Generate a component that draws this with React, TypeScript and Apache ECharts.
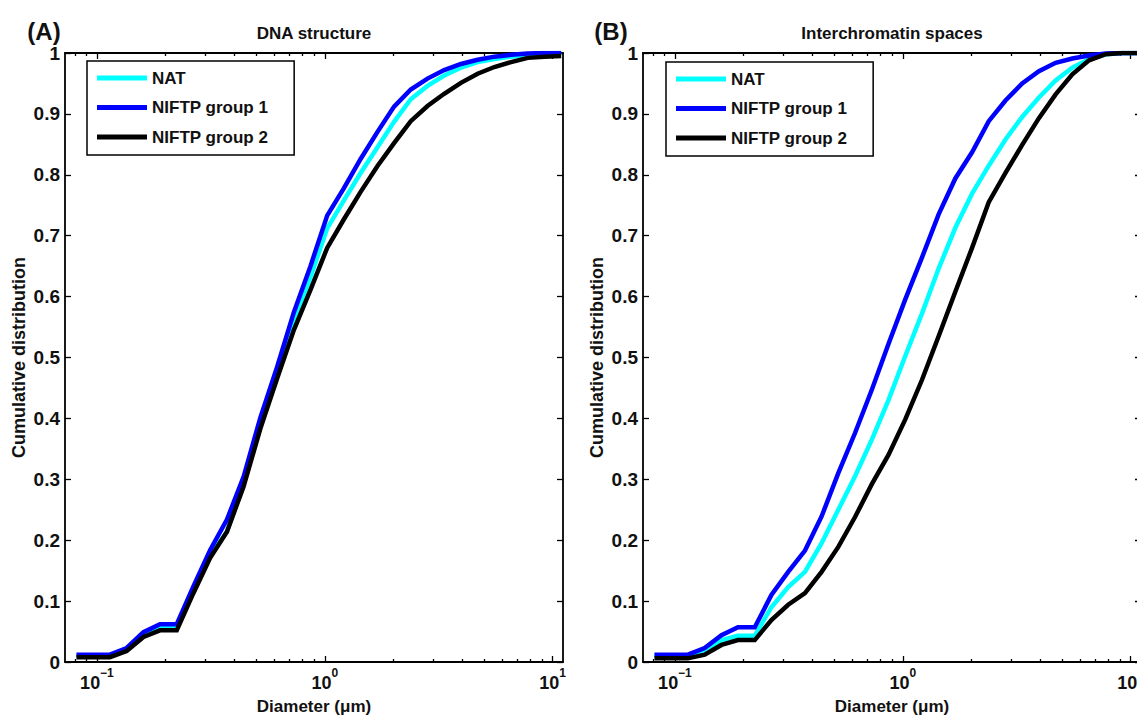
import React, { useEffect, useRef } from "react";
import * as echarts from "echarts";

// Diameter (µm) of each point of the cumulative curves
const DIAMETER_UM = [
  0.0813, 0.0963, 0.114, 0.135, 0.16, 0.189, 0.224, 0.265, 0.314, 0.372, 0.44, 0.521, 0.617, 0.731, 0.865,
  1.024, 1.213, 1.436, 1.7, 2.013, 2.383, 2.822, 3.341, 3.956, 4.684, 5.546, 6.566, 7.775, 9.205, 10.9,
];

// Panel A: DNA structure
const A_NAT = [
  0.01, 0.01, 0.01, 0.02, 0.045, 0.058, 0.058, 0.118, 0.175, 0.214, 0.292, 0.39, 0.477, 0.562, 0.632,
  0.712, 0.758, 0.803, 0.845, 0.887, 0.924, 0.946, 0.963, 0.976, 0.985, 0.99, 0.994, 0.997, 0.999, 1.0,
];
const A_NIFTP1 = [
  0.012, 0.012, 0.012, 0.023, 0.049, 0.062, 0.062, 0.124, 0.184, 0.234, 0.304, 0.401, 0.484, 0.574, 0.65,
  0.733, 0.778, 0.826, 0.87, 0.912, 0.94, 0.958, 0.972, 0.982, 0.989, 0.994, 0.997, 0.999, 1.0, 1.0,
];
const A_NIFTP2 = [
  0.008, 0.008, 0.008, 0.018, 0.041, 0.052, 0.052, 0.113, 0.171, 0.214, 0.288, 0.383, 0.465, 0.545, 0.611,
  0.68, 0.727, 0.772, 0.814, 0.852, 0.888, 0.913, 0.933, 0.951, 0.966, 0.977, 0.985, 0.992, 0.994, 0.995,
];

// Panel B: Interchromatin spaces
const B_NAT = [
  0.01, 0.01, 0.01, 0.02, 0.036, 0.043, 0.043, 0.09, 0.123, 0.148, 0.195, 0.25, 0.305, 0.365, 0.43,
  0.502, 0.572, 0.646, 0.713, 0.769, 0.815, 0.858, 0.895, 0.927, 0.955, 0.976, 0.99, 0.998, 1.0, 1.0,
];
const B_NIFTP1 = [
  0.012, 0.012, 0.012, 0.023, 0.044, 0.057, 0.057, 0.11, 0.148, 0.183, 0.239, 0.31, 0.376, 0.447, 0.522,
  0.595, 0.664, 0.735, 0.794, 0.837, 0.888, 0.922, 0.95, 0.97, 0.984, 0.991, 0.996, 0.999, 1.0, 1.0,
];
const B_NIFTP2 = [
  0.006, 0.006, 0.006, 0.012, 0.028, 0.036, 0.036, 0.069, 0.094, 0.113, 0.148, 0.189, 0.238, 0.292, 0.34,
  0.398, 0.463, 0.535, 0.608, 0.68, 0.755, 0.803, 0.849, 0.893, 0.932, 0.965, 0.988, 0.998, 1.0, 1.0,
];

const SERIES_NAMES = ["NAT", "NIFTP group 1", "NIFTP group 2"];
const SERIES_COLORS = ["#00FFFF", "#0000FF", "#000000"];
const PANEL_DATA = [
  [A_NAT, A_NIFTP1, A_NIFTP2],
  [B_NAT, B_NIFTP1, B_NIFTP2],
];
const PANEL_TITLES = ["DNA structure", "Interchromatin spaces"];
const PANEL_LETTERS = ["(A)", "(B)"];
const X_AXIS_NAME = "Diameter (μm)";
const Y_AXIS_NAME = "Cumulative distribution";

const X_MIN_UM = 0.0724;
const X_MAX_UM = 11.1;
const MAJOR_TICKS_UM = [0.1, 1, 10];
const MINOR_TICKS_UM = [0.08, 0.09, 0.2, 0.3, 0.4, 0.5, 0.6, 0.7, 0.8, 0.9, 2, 3, 4, 5, 6, 7, 8, 9];
const Y_MIN = 0;
const Y_MAX = 1;
const Y_STEP = 0.1;

const FONT = '"Liberation Sans", Arial, Helvetica, sans-serif';
const INK = "#111";

const lg = (v: number) => Math.log10(v);

function buildOption() {
  const grids = [
    { left: 65, top: 53, width: 498, height: 609 },
    { left: 643, top: 53, width: 498, height: 609 },
  ];
  const xMin = lg(X_MIN_UM);
  const xMax = lg(X_MAX_UM);
  const major = MAJOR_TICKS_UM.map(lg);
  const minor = MINOR_TICKS_UM.map(lg);
  const lineStyle = { color: "#000", width: 1.8 };
  const tickStyle = { color: "#000", width: 1.3 };

  const xAxes: any[] = [];
  const yAxes: any[] = [];
  const series: any[] = [];

  grids.forEach((_, gi) => {
    const base = {
      gridIndex: gi,
      type: "value",
      min: xMin,
      max: xMax,
      splitLine: { show: false },
    };
    // bottom major with labels + name
    xAxes.push({
      ...base,
      position: "bottom",
      axisLine: { show: true, onZero: false, lineStyle },
      axisTick: { show: true, inside: true, length: 6, customValues: major, lineStyle: tickStyle },
      axisLabel: {
        show: true,
        customValues: major,
        margin: 5,
        formatter: (v: number) => {
          const e = Math.round(v);
          return `{b|10}{s|${e < 0 ? "\u2212" + -e : e}}`;
        },
        rich: {
          b: {
            fontFamily: FONT,
            fontWeight: "bold",
            fontSize: 18,
            lineHeight: 22,
            color: INK,
            padding: [7, 0, 0, 0],
            verticalAlign: "top",
          },
          s: {
            fontFamily: FONT,
            fontWeight: "bold",
            fontSize: 12,
            lineHeight: 14,
            color: INK,
            verticalAlign: "top",
          },
        },
      },
      name: X_AXIS_NAME,
      nameLocation: "middle",
      nameGap: 36,
      nameTextStyle: { fontFamily: FONT, fontWeight: "bold", fontSize: 17, color: INK },
    });
    // bottom minor
    xAxes.push({
      ...base,
      position: "bottom",
      axisLine: { show: false, onZero: false },
      axisTick: { show: true, inside: true, length: 3, customValues: minor, lineStyle: tickStyle },
      axisLabel: { show: false },
    });
    // top major
    xAxes.push({
      ...base,
      position: "top",
      axisLine: { show: true, onZero: false, lineStyle },
      axisTick: { show: true, inside: true, length: 6, customValues: major, lineStyle: tickStyle },
      axisLabel: { show: false },
    });
    // top minor
    xAxes.push({
      ...base,
      position: "top",
      axisLine: { show: false, onZero: false },
      axisTick: { show: true, inside: true, length: 3, customValues: minor, lineStyle: tickStyle },
      axisLabel: { show: false },
    });

    yAxes.push({
      gridIndex: gi,
      type: "value",
      min: Y_MIN,
      max: Y_MAX,
      interval: Y_STEP,
      position: "left",
      axisLine: { show: true, onZero: false, lineStyle },
      axisTick: { show: true, inside: true, length: 6, lineStyle: tickStyle },
      axisLabel: {
        show: true,
        margin: 5,
        fontFamily: FONT,
        fontWeight: "bold",
        fontSize: 19,
        color: INK,
      },
      splitLine: { show: false },
      name: Y_AXIS_NAME,
      nameLocation: "middle",
      nameGap: 37,
      nameRotate: 90,
      nameTextStyle: { fontFamily: FONT, fontWeight: "bold", fontSize: 18, color: INK },
    });
    yAxes.push({
      gridIndex: gi,
      type: "value",
      min: Y_MIN,
      max: Y_MAX,
      interval: Y_STEP,
      position: "right",
      axisLine: { show: true, onZero: false, lineStyle },
      axisTick: { show: true, inside: true, length: 6, lineStyle: tickStyle },
      axisLabel: { show: false },
      splitLine: { show: false },
    });

    PANEL_DATA[gi].forEach((vals, si) => {
      series.push({
        type: "line",
        name: SERIES_NAMES[si],
        xAxisIndex: gi * 4,
        yAxisIndex: gi * 2,
        data: DIAMETER_UM.map((d, i) => [lg(d), vals[i]]),
        showSymbol: false,
        symbol: "none",
        color: SERIES_COLORS[si],
        lineStyle: { color: SERIES_COLORS[si], width: 4.5, join: "miter" },
        z: 2 + si,
      });
    });
  });

  const legendBase = {
    orient: "vertical",
    data: SERIES_NAMES,
    icon: "rect",
    itemWidth: 50,
    itemHeight: 5,
    itemGap: 9.5,
    padding: [7, 26, 8, 10],
    borderColor: "#000",
    borderWidth: 1.5,
    borderRadius: 0,
    backgroundColor: "#fff",
    selectedMode: false,
    textStyle: { fontFamily: FONT, fontWeight: "bold", fontSize: 17, color: INK, lineHeight: 20 },
  };

  const graphics: any[] = [];
  grids.forEach((g, gi) => {
    graphics.push({
      type: "text",
      x: g.left + g.width / 2,
      y: 33,
      style: {
        text: PANEL_TITLES[gi],
        font: `bold 17px ${FONT}`,
        fill: INK,
        align: "center",
        verticalAlign: "middle",
      },
    });
  });
  graphics.push({
    type: "text",
    x: 44,
    y: 31,
    style: { text: PANEL_LETTERS[0], font: `bold 24px ${FONT}`, fill: INK, align: "center", verticalAlign: "middle" },
  });
  graphics.push({
    type: "text",
    x: 611,
    y: 31,
    style: { text: PANEL_LETTERS[1], font: `bold 24px ${FONT}`, fill: INK, align: "center", verticalAlign: "middle" },
  });

  return {
    animation: false,
    backgroundColor: "#fff",
    textStyle: { fontFamily: FONT },
    grid: grids.map((g) => ({ ...g, containLabel: false, outerBoundsMode: "none" })),
    xAxis: xAxes,
    yAxis: yAxes,
    legend: [
      { ...legendBase, left: 87, top: 61 },
      { ...legendBase, left: 666, top: 62 },
    ],
    graphic: graphics,
    series,
  };
}

export default function App() {
  const ref = useRef<HTMLDivElement>(null);
  useEffect(() => {
    if (!ref.current) return;
    const chart = echarts.init(ref.current, undefined, { renderer: "svg" });
    chart.setOption(buildOption() as any);
    return () => chart.dispose();
  }, []);
  return (
    <div
      ref={ref}
      style={{ position: "fixed", left: 0, top: 0, width: 1137, height: 718, background: "#fff" }}
    />
  );
}
